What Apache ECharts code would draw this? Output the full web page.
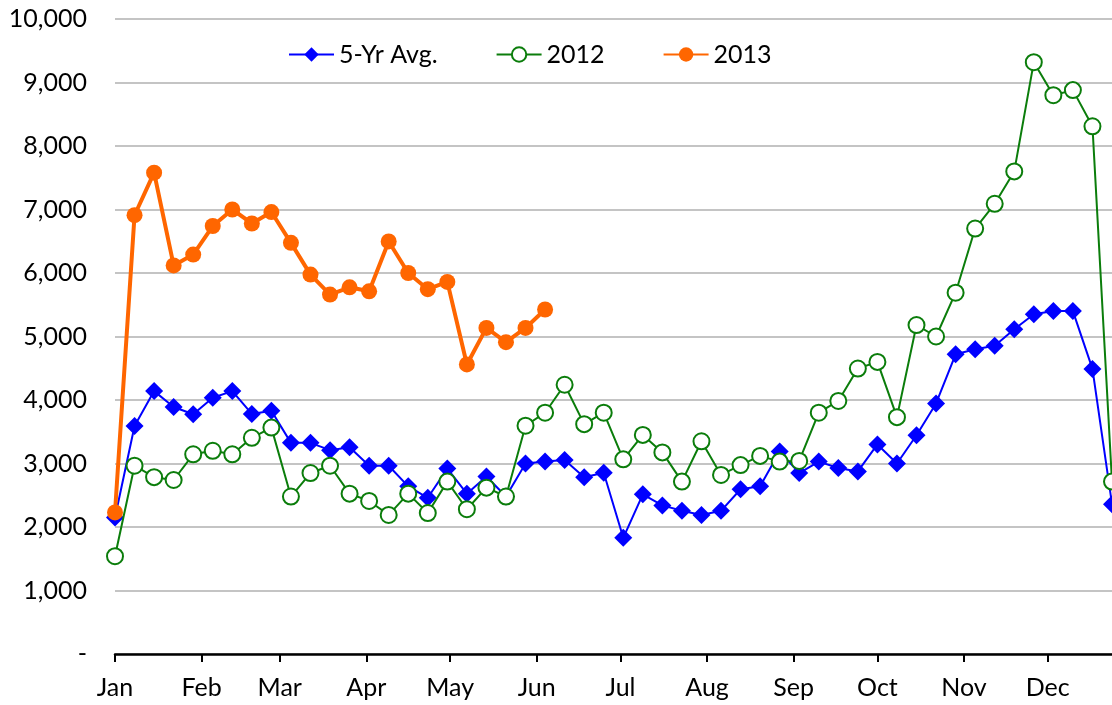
<!DOCTYPE html>
<html>
<head>
<meta charset="utf-8">
<script src="https://cdn.jsdelivr.net/npm/echarts@6/dist/echarts.min.js"></script>
<style>
html,body{margin:0;padding:0;background:#fff;}
#chart{width:1112px;height:705px;}
</style>
</head>
<body>
<div id="chart"></div>
<script>
// Weekly values (week index i -> day of year i*7)
const avg5 = [2150,3590,4140,3890,3775,4035,4140,3780,3830,3325,3325,3210,3255,2965,2965,2640,2460,2920,2525,2795,2480,3000,3030,3055,2785,2855,1830,2515,2340,2255,2190,2255,2595,2640,3190,2850,3030,2930,2875,3300,3000,3445,3945,4720,4800,4855,5115,5350,5400,5400,4490,2360];
const y2012 = [1540,2965,2785,2740,3145,3200,3145,3405,3565,2480,2850,2965,2525,2410,2190,2525,2220,2715,2280,2620,2480,3595,3800,4240,3620,3800,3065,3450,3175,2715,3350,2820,2975,3120,3030,3040,3800,3985,4495,4600,3730,5180,5000,5690,6700,7090,7600,9320,8800,8880,8310,2715];
const y2013 = [2230,6910,7580,6120,6290,6740,7000,6780,6960,6475,5975,5660,5775,5712,6497,6000,5745,5860,4560,5135,4910,5135,5425];
const monthNames = ['Jan','Feb','Mar','Apr','May','Jun','Jul','Aug','Sep','Oct','Nov','Dec'];
const monthStartDays = [0,31,59,90,120,151,181,212,243,273,304,334];
const seriesNames = ['5-Yr Avg.','2012','2013'];

const toXY = arr => arr.map((v,i)=>[i*7, v]);
const FONT = 'Lato, "Liberation Sans", sans-serif';

const chart = echarts.init(document.getElementById('chart'), null, {renderer:'canvas'});
chart.setOption({
  animation:false,
  backgroundColor:'#fff',
  grid:{left:115, right:0, top:19, bottom:51, containLabel:false},
  legend:{
    left:283, top:37,
    itemWidth:45, itemHeight:18, itemGap:58,
    textStyle:{fontSize:25, color:'#000', fontFamily:FONT, padding:[0,0,0,0]},
    data:seriesNames
  },
  xAxis:{
    type:'value', min:0, max:357,
    axisLine:{show:true, onZero:false, lineStyle:{color:'#000', width:2.5}},
    axisTick:{show:true, customValues:monthStartDays, length:8, lineStyle:{color:'#000', width:2}},
    axisLabel:{
      customValues:monthStartDays, margin:21, fontSize:25, color:'#000', fontFamily:FONT,
      formatter:v=>monthNames[monthStartDays.indexOf(v)]
    },
    splitLine:{show:false}
  },
  yAxis:{
    type:'value', min:0, max:10000, interval:1000,
    axisLine:{show:false}, axisTick:{show:false},
    axisLabel:{margin:28, fontSize:25, color:'#000', fontFamily:FONT,
      formatter:v=> v===0 ? '-' : v.toLocaleString('en-US')},
    splitLine:{lineStyle:{color:'#c4c4c4', width:2}}
  },
  series:[
    {name:seriesNames[0], type:'line', data:toXY(avg5), symbol:'diamond', symbolSize:18,
     lineStyle:{color:'#0000ff', width:2}, itemStyle:{color:'#0000ff'}, z:2},
    {name:seriesNames[1], type:'line', data:toXY(y2012), symbol:'circle', symbolSize:16, showAllSymbol:true,
     lineStyle:{color:'#0b7d0b', width:2}, itemStyle:{color:'#fff', borderColor:'#0b7d0b', borderWidth:2}, z:3},
    {name:seriesNames[2], type:'line', data:toXY(y2013), symbol:'circle', symbolSize:16,
     lineStyle:{color:'#ff6600', width:4}, itemStyle:{color:'#ff6600'}, z:4}
  ]
});
</script>
</body>
</html>
